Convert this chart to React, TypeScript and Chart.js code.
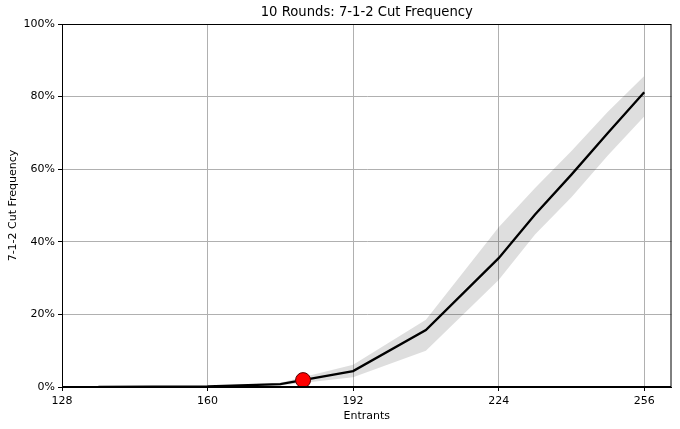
import React, { useEffect, useRef } from 'react';
import { Chart, registerables } from 'chart.js';

Chart.register(...registerables);

// entrants (x) and cut frequency (0..1)
const entrants = [136, 160, 176, 192, 208, 224, 232, 240, 248, 256];
const meanFreq = [0.0, 0.0015, 0.008, 0.044, 0.157, 0.355, 0.475, 0.585, 0.7, 0.812];
const upperFreq = [0.0, 0.003, 0.012, 0.061, 0.185, 0.44, 0.548, 0.65, 0.758, 0.857];
const lowerFreq = [0.0, 0.0005, 0.004, 0.027, 0.1, 0.295, 0.42, 0.523, 0.638, 0.745];
const markerX = [181];
const markerY = [0.019];
const xTicks = [128, 160, 192, 224, 256];
const titleText = '10 Rounds: 7-1-2 Cut Frequency';

const FONT = 'DejaVu Sans';

// box around the plot plus a title centred over the plot area
const frame = {
  id: 'frame',
  afterDatasetsDraw(chart: any) {
    const { ctx, chartArea: a } = chart;
    ctx.save();
    ctx.strokeStyle = '#000';
    ctx.lineWidth = 1;
    ctx.strokeRect(a.left + 0.5, a.top + 0.5, a.right - a.left - 1, a.bottom - a.top - 1);
    ctx.fillStyle = '#000';
    ctx.font = `13.2px "${FONT}"`;
    ctx.textAlign = 'center';
    ctx.textBaseline = 'middle';
    ctx.fillText(titleText, (a.left + a.right) / 2, 13);
    ctx.restore();
  },
};

const App: React.FC = () => {
  const canvasRef = useRef<HTMLCanvasElement>(null);
  const chartRef = useRef<any>(null);

  useEffect(() => {
    document.body.style.margin = '0';
    if (chartRef.current) chartRef.current.destroy();
    const ctx = canvasRef.current!.getContext('2d')!;
    const pts = (ys: number[]) => entrants.map((x, i) => ({ x, y: ys[i] }));

    chartRef.current = new Chart(ctx, {
      type: 'line',
      data: {
        datasets: [
          {
            data: pts(upperFreq),
            borderWidth: 0,
            pointRadius: 0,
            backgroundColor: 'rgba(0,0,0,0.13)',
            fill: '+1',
            order: 3,
          },
          {
            data: pts(lowerFreq),
            borderWidth: 0,
            pointRadius: 0,
            fill: false,
            order: 2,
          },
          {
            data: pts(meanFreq),
            borderColor: '#000',
            borderWidth: 2.3,
            pointRadius: 0,
            fill: false,
            order: 1,
          },
          {
            data: markerX.map((x, i) => ({ x, y: markerY[i] })),
            showLine: false,
            pointRadius: 7.5,
            pointBackgroundColor: '#ff0000',
            pointBorderColor: '#550000',
            pointBorderWidth: 1,
            order: 0,
          },
        ],
      },
      options: {
        animation: false,
        responsive: true,
        maintainAspectRatio: false,
        layout: { padding: { left: 0, right: 8, top: 24, bottom: 0 } },
        plugins: {
          legend: { display: false },
          tooltip: { enabled: false },
          title: { display: false },
        },
        scales: {
          x: {
            type: 'linear',
            min: 128,
            max: 262,
            afterBuildTicks: (s: any) => {
              s.ticks = xTicks.map((v) => ({ value: v }));
            },
            afterFit: (s: any) => {
              s.height = 42;
            },
            border: { color: '#000', width: 1 },
            grid: { color: '#b0b0b0', lineWidth: 1, tickLength: 4, tickColor: '#000' },
            ticks: {
              color: '#000',
              font: { family: FONT, size: 11 },
              padding: 4,
              maxRotation: 0,
            },
            title: {
              display: true,
              text: 'Entrants',
              color: '#000',
              font: { family: FONT, size: 11 },
              padding: { top: 0, bottom: 6 },
            },
          },
          y: {
            min: 0,
            max: 1,
            afterFit: (s: any) => {
              s.width = 62;
            },
            border: { color: '#000', width: 1 },
            grid: { color: '#b0b0b0', lineWidth: 1, tickLength: 4, tickColor: '#000' },
            ticks: {
              stepSize: 0.2,
              color: '#000',
              font: { family: FONT, size: 11 },
              padding: 3,
              callback: (v: any) => `${Math.round(Number(v) * 100)}%`,
            },
            title: {
              display: true,
              text: '7-1-2 Cut Frequency',
              color: '#000',
              font: { family: FONT, size: 11 },
              padding: { top: 7, bottom: 0 },
            },
          },
        },
      },
      plugins: [frame],
    } as any);

    return () => {
      if (chartRef.current) {
        chartRef.current.destroy();
        chartRef.current = null;
      }
    };
  }, []);

  return (
    <div style={{ width: 680, height: 429, position: 'relative' }}>
      <canvas ref={canvasRef} />
    </div>
  );
};

export default App;
